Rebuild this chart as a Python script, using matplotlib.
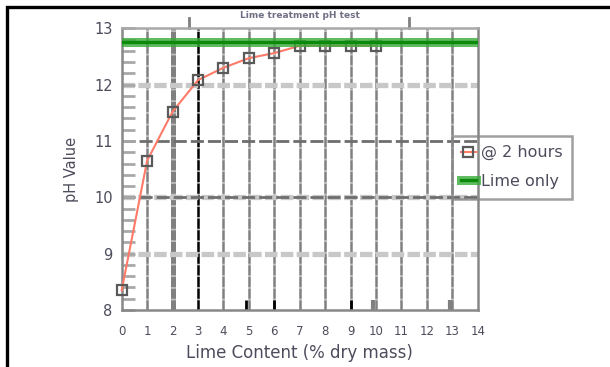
import matplotlib
matplotlib.use("Agg")
import matplotlib.pyplot as plt
from matplotlib.patches import Rectangle
from matplotlib.ticker import MultipleLocator, NullFormatter

plt.rcParams['lines.scale_dashes'] = False
plt.rcParams['font.family'] = ['DejaVu Sans']

# ---- data ----
lime_content = [0, 1, 2, 3, 4, 5, 6, 7, 8, 9, 10]
ph_2hours = [8.35, 10.65, 11.52, 12.08, 12.30, 12.47, 12.56, 12.69, 12.69, 12.69, 12.69]
ph_lime_only = 12.75
x_ticks = list(range(0, 15))
y_ticks = [8, 9, 10, 11, 12, 13]
series_labels = ["@ 2 hours", "Lime only"]
x_label = "Lime Content (% dry mass)"
y_label = "pH Value"
top_text = "Lime treatment pH test"

TXT = '#4c4c5c'
fig = plt.figure(figsize=(6.10, 3.67), dpi=100)
ax = fig.add_axes([121.7 / 610, 1 - 310 / 367, (477.7 - 121.7) / 610, (310 - 28.3) / 367])
ax.set_xlim(0, 14)
ax.set_ylim(8, 13)

# outer frame of the figure (partly cut)
fig.patches.append(Rectangle((7 / 610, -0.2), 1.5, 1.2 - 6.5 / 367, transform=fig.transFigure,
                             fill=False, edgecolor='black', lw=2.4, clip_on=False))

# vertical grid lines
for xv in x_ticks[1:-1]:
    col = '#000000' if xv == 3 else '#808080'
    lw = 3.6 if xv == 2 else 1.8
    ax.axvline(xv, color=col, lw=lw, dashes=(7.4, 1.0), gapcolor='#bdbdbd', zorder=1)

# horizontal grid lines
for yv in [9, 10, 12]:
    ax.axhline(yv, color='#c8c8c8', lw=3.8, dashes=(9.0, 2.4), zorder=1.2)
for yv in [10, 11]:
    ax.axhline(yv, color='#6e6e6e', lw=2.0, dashes=(9.4, 2.9), zorder=1.3)

# small stubs on the bottom and top
ax.vlines([4.9, 6, 9], 8, 8.17, color='black', lw=2.0, zorder=2)
ax.vlines([9.9, 12.9], 8, 8.17, color='#808080', lw=3.0, zorder=2)
for xv in [2.65, 11.3]:
    ax.plot([xv, xv], [13, 13.18], color='#808080', lw=2.0, clip_on=False, zorder=2)

# data series
ln, = ax.plot(lime_content, ph_2hours, color='#ff7a68', lw=1.5, marker='s', ms=7.5,
              mfc='none', mec='#5a5a5a', mew=1.6, clip_on=False, zorder=3)
halo = ax.axhline(ph_lime_only, color='#3aab3a', lw=6.5, alpha=0.8, zorder=4)
core = ax.axhline(ph_lime_only, color='#0b8a0b', lw=2.4, zorder=4.1)

# spines
for s in ['left', 'bottom', 'right']:
    ax.spines[s].set_color('#888888')
    ax.spines[s].set_linewidth(1.8)
ax.spines['top'].set_color('#a8a8a8')
ax.spines['top'].set_linewidth(1.8)

# ticks
ax.set_xticks(x_ticks)
ax.set_yticks(y_ticks)
ax.yaxis.set_minor_locator(MultipleLocator(0.2))
ax.yaxis.set_minor_formatter(NullFormatter())
ax.tick_params(axis='x', length=0, pad=11, labelsize=8.5, labelcolor=TXT)
ax.tick_params(axis='y', which='both', direction='in', length=9.5, width=2.0,
               color='#a8a8a8', pad=6.5, labelsize=10.5, labelcolor=TXT)

ax.set_xlabel(x_label, fontsize=12, color=TXT, labelpad=4)
ax.set_ylabel(y_label, fontsize=10.5, color=TXT, labelpad=11)

fig.text(300 / 610, 1 - 15 / 367, top_text, fontsize=6.5, color='#707085',
         ha='center', va='center', fontweight='bold')

leg = ax.legend([ln, (halo, core)], series_labels, loc='upper left',
                bbox_to_anchor=(451.7 / 610, 1 - 135.7 / 367), bbox_transform=fig.transFigure,
                borderaxespad=0, fontsize=11.5, handlelength=0.9, handletextpad=0.35,
                borderpad=0.6, labelspacing=0.85, fancybox=False)
frame = leg.get_frame()
frame.set_facecolor('none')
frame.set_edgecolor('#888888')
frame.set_linewidth(1.8)
for t in leg.get_texts():
    t.set_color(TXT)

fig.savefig("out.png", dpi=100)
